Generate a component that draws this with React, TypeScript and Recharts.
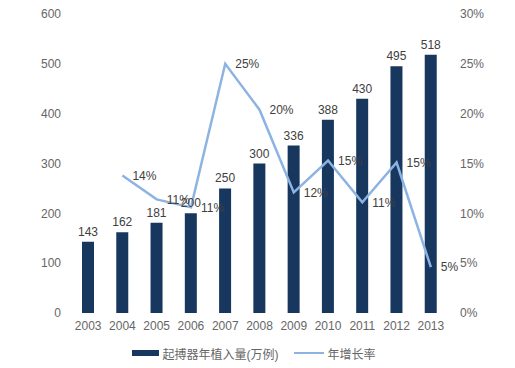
import { ComposedChart, Bar, Line, XAxis, YAxis, Legend, LabelList } from "recharts";

const years = ["2003", "2004", "2005", "2006", "2007", "2008", "2009", "2010", "2011", "2012", "2013"];
const implants = [143, 162, 181, 200, 250, 300, 336, 388, 430, 495, 518];
const growth: (number | null)[] = [null, 13.8, 11.4, 10.6, 25, 20.4, 12.1, 15.3, 11.1, 15.1, 4.6];
const leftTicks = [0, 100, 200, 300, 400, 500, 600];
const rightTicks = [0, 5, 10, 15, 20, 25, 30];

const BAR = "#17375e";
const LINE = "#8db3e2";
const TEXT = "#666666";
const FONT = "'Liberation Sans', Arial, 'Noto Sans CJK SC', sans-serif";

const data = years.map((y, i) => ({ year: y, implants: implants[i], growth: growth[i] }));

function LegendBox() {
  return (
    <div style={{ display: "flex", justifyContent: "center", alignItems: "center", fontSize: 12, color: TEXT, fontFamily: FONT, height: 30 }}>
      <span style={{ display: "inline-block", width: 27, height: 6, background: BAR, marginRight: 3 }} />
      <span style={{ marginRight: 16 }}>起搏器年植入量(万例)</span>
      <span style={{ display: "inline-block", width: 30, height: 2, background: LINE, marginRight: 3 }} />
      <span>年增长率</span>
    </div>
  );
}

export default function App() {
  return (
    <div style={{ position: "absolute", left: 0, top: 0, background: "#fff", fontFamily: FONT }}>
      <ComposedChart width={515} height={368} data={data} margin={{ top: 14, right: 7, bottom: 0, left: 0 }}>
        <XAxis dataKey="year" axisLine={false} tickLine={false} tick={{ fill: TEXT, fontSize: 12 }} height={25} />
        <YAxis yAxisId="l" domain={[0, 600]} ticks={leftTicks} axisLine={false} tickLine={false} tickMargin={4} width={71} tick={{ fill: TEXT, fontSize: 12 }} />
        <YAxis yAxisId="r" orientation="right" domain={[0, 30]} ticks={rightTicks} axisLine={false} tickLine={false} tickMargin={6} width={60} tickFormatter={(v) => `${v}%`} tick={{ fill: TEXT, fontSize: 12, textAnchor: "start" }} />
        <Legend verticalAlign="bottom" height={30} content={() => <LegendBox />} />
        <Bar yAxisId="l" dataKey="implants" fill={BAR} barSize={12} isAnimationActive={false}>
          <LabelList dataKey="implants" position="top" offset={6} fill="#404040" fontSize={12} />
        </Bar>
        <Line yAxisId="r" dataKey="growth" type="linear" stroke={LINE} strokeWidth={2.5} dot={false} isAnimationActive={false}>
          <LabelList dataKey="growth" position="right" offset={10} fill="#404040" fontSize={12} formatter={(v: any) => (v == null ? "" : `${Math.round(v)}%`)} />
        </Line>
      </ComposedChart>
    </div>
  );
}
